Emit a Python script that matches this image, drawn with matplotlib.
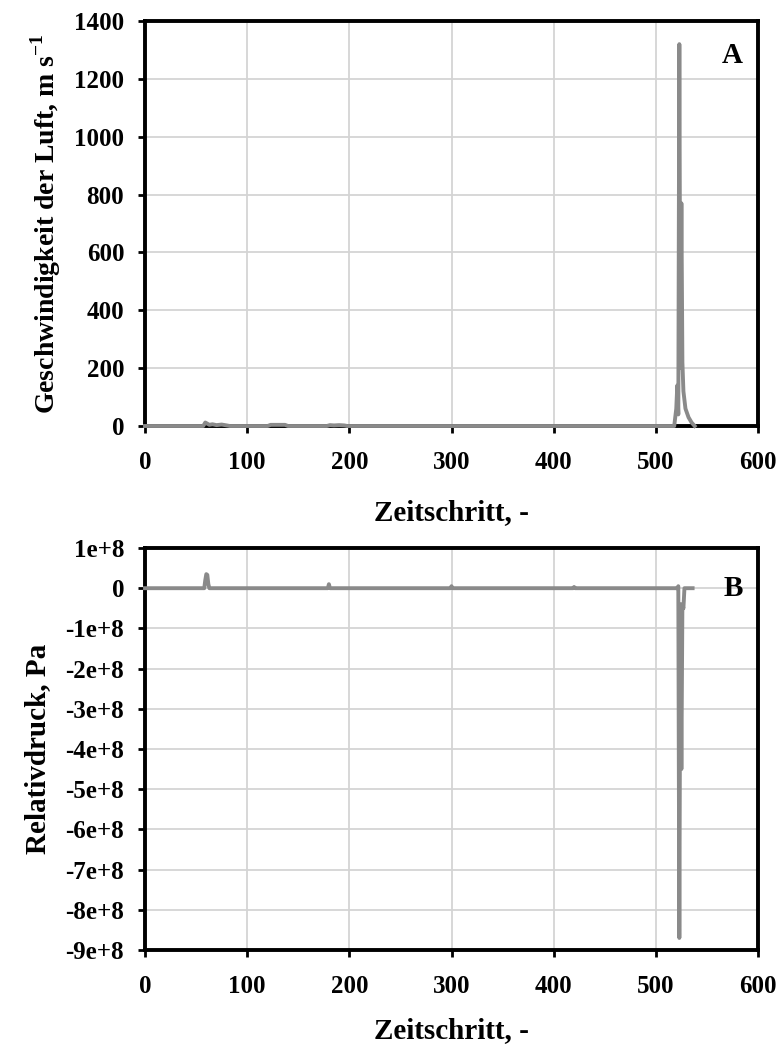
import matplotlib
matplotlib.use("Agg")
import matplotlib.pyplot as plt

plt.rcParams['font.family'] = ['Liberation Serif', 'DejaVu Serif']
plt.rcParams['font.weight'] = 'bold'
plt.rcParams['mathtext.fontset'] = 'custom'
plt.rcParams['mathtext.rm'] = 'Liberation Serif:bold'
plt.rcParams['mathtext.bf'] = 'Liberation Serif:bold'

# Panel A: air velocity per time step (m/s)
step_a = [0, 57, 59, 61, 63, 66, 70, 75, 80, 83, 120, 123, 130, 137, 140,
          178, 181, 185, 190, 195, 198, 518, 520, 521, 522, 523, 524, 525,
          526, 527, 529, 532, 535, 538]
velocity = [0, 0, 12, 8, 4, 6, 3, 5, 2, 0, 0, 4, 4, 4, 0,
            0, 3, 2, 3, 2, 0, 0, 60, 140, 40, 1320, 200, 770,
            220, 120, 60, 30, 12, 0]

# Panel B: relative pressure per time step (Pa)
step_b = [0, 58, 59, 60, 61, 62, 63, 179, 180, 181, 299, 300, 301, 419,
          420, 421, 521, 522, 523, 524, 525, 526, 527, 528, 536]
pressure = [0, 0, 2.0e7, 3.5e7, 3.3e7, 1.0e7, 0, 0, 1.0e7, 0, 0, 5.0e6, 0, 0,
            3.0e6, 0, 0, 5.0e6, -8.7e8, -4.0e7, -4.5e8, -4.0e7, -5.0e7, 0, 0]

x_ticks = [0, 100, 200, 300, 400, 500, 600]
a_ticks = [0, 200, 400, 600, 800, 1000, 1200, 1400]
b_ticks = [1e8, 0, -1e8, -2e8, -3e8, -4e8, -5e8, -6e8, -7e8, -8e8, -9e8]
b_tick_labels = ['1e+8', '0', '-1e+8', '-2e+8', '-3e+8', '-4e+8', '-5e+8',
                 '-6e+8', '-7e+8', '-8e+8', '-9e+8']

line_color = '#8a8a8a'
grid_color = '#d4d4d4'

W, H = 781, 1049
fig = plt.figure(figsize=(W / 100, H / 100), dpi=100)


def rect(left, top, right, bottom):
    return [left / W, 1 - bottom / H, (right - left) / W, (bottom - top) / H]


ax_a = fig.add_axes(rect(145, 21, 758, 426))
ax_b = fig.add_axes(rect(145, 548, 758, 950))


def style(ax, xpad):
    ax.set_xlim(0, 600)
    ax.set_xticks(x_ticks)
    ax.grid(True, color=grid_color, linewidth=1.3)
    ax.set_axisbelow(True)
    for s in ax.spines.values():
        s.set_linewidth(2.8)
        s.set_color('black')
    ax.tick_params(direction='out', length=5, width=2, labelsize=18,
                   pad=10, colors='black')
    ax.tick_params(axis='x', pad=13)
    for lab in ax.get_xticklabels() + ax.get_yticklabels():
        lab.set_fontweight('bold')
    ax.set_xlabel('Zeitschritt, -', fontsize=21, fontweight='bold',
                  labelpad=xpad)


ax_a.plot(step_a, velocity, color=line_color, linewidth=2.8, zorder=3,
          clip_on=False, solid_joinstyle='round')
ax_a.set_ylim(0, 1400)
ax_a.set_yticks(a_ticks)
style(ax_a, 18)
ax_a.set_ylabel(r'Geschwindigkeit der Luft, m s$^{-1}$', fontsize=20,
                fontweight='bold', labelpad=8)
ax_a.text(0.975, 0.915, 'A', transform=ax_a.transAxes, ha='right', va='center',
          fontsize=21, fontweight='bold')

ax_b.plot(step_b, pressure, color=line_color, linewidth=2.8, zorder=3,
          clip_on=False, solid_joinstyle='round')
ax_b.set_ylim(-9e8, 1e8)
ax_b.set_yticks(b_ticks)
ax_b.set_yticklabels(b_tick_labels)
style(ax_b, 14)
ax_b.set_ylabel('Relativdruck, Pa', fontsize=21, fontweight='bold', labelpad=10)
ax_b.text(0.975, 0.9, 'B', transform=ax_b.transAxes, ha='right', va='center',
          fontsize=21, fontweight='bold')

fig.savefig('out.png', dpi=100)
